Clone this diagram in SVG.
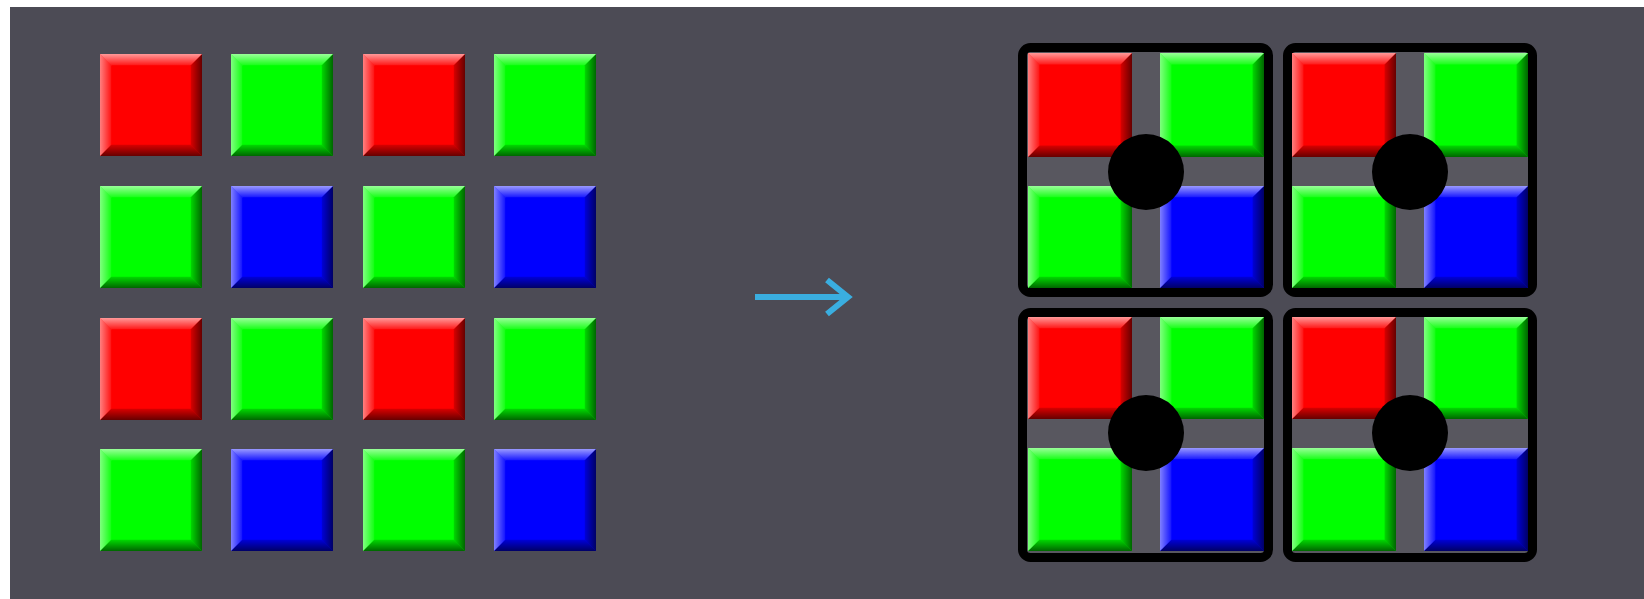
<svg xmlns="http://www.w3.org/2000/svg" xmlns:xlink="http://www.w3.org/1999/xlink" width="1644" height="599" viewBox="0 0 1644 599">
<style>
.r{fill:#ff0000}
.g{fill:#00ff00}
.b{fill:#0000ff}
.blk{fill:#58575f;stroke:#000;stroke-width:9}
.dot{fill:#000}
.arrow{stroke:#3aaee0;stroke-width:6;fill:none}
</style>
<defs>
<linearGradient id="gTop" x1="0" y1="0" x2="0" y2="1"><stop offset="0" stop-color="#fff" stop-opacity="0.6"/><stop offset="1" stop-color="#fff" stop-opacity="0.1"/></linearGradient>
<linearGradient id="gLeft" x1="0" y1="0" x2="1" y2="0"><stop offset="0" stop-color="#fff" stop-opacity="0.5"/><stop offset="1" stop-color="#fff" stop-opacity="0.08"/></linearGradient>
<linearGradient id="gBot" x1="0" y1="0" x2="0" y2="1"><stop offset="0" stop-color="#000" stop-opacity="0.15"/><stop offset="1" stop-color="#000" stop-opacity="0.6"/></linearGradient>
<linearGradient id="gRight" x1="0" y1="0" x2="1" y2="0"><stop offset="0" stop-color="#000" stop-opacity="0.15"/><stop offset="1" stop-color="#000" stop-opacity="0.6"/></linearGradient>
<symbol id="bevel" viewBox="0 0 100 100" preserveAspectRatio="none">
<polygon points="0,100 11,89 89,89 100,100" fill="url(#gBot)"/>
<polygon points="100,0 100,100 89,89 89,11" fill="url(#gRight)"/>
<polygon points="0,0 100,0 89,11 11,11" fill="url(#gTop)"/>
<polygon points="0,0 11,11 11,89 0,100" fill="url(#gLeft)"/>
</symbol>
<marker id="head" markerUnits="userSpaceOnUse" markerWidth="30" markerHeight="44" refX="24" refY="20" orient="auto" viewBox="0 0 30 40">
<polyline points="3,3 24,20 3,37" fill="none" stroke="#3aaee0" stroke-width="6"/>
</marker>
</defs>
<rect x="0" y="0" width="1644" height="599" fill="#ffffff"/>
<rect x="10" y="7" width="1634" height="592" fill="#4c4b55"/>

<g id="left-grid">
<g id="L00"><rect class="r" x="100" y="54" width="102" height="102"/><use xlink:href="#bevel" x="100" y="54" width="102" height="102"/></g>
<g id="L01"><rect class="g" x="231" y="54" width="102" height="102"/><use xlink:href="#bevel" x="231" y="54" width="102" height="102"/></g>
<g id="L02"><rect class="r" x="363" y="54" width="102" height="102"/><use xlink:href="#bevel" x="363" y="54" width="102" height="102"/></g>
<g id="L03"><rect class="g" x="494" y="54" width="102" height="102"/><use xlink:href="#bevel" x="494" y="54" width="102" height="102"/></g>
<g id="L10"><rect class="g" x="100" y="186" width="102" height="102"/><use xlink:href="#bevel" x="100" y="186" width="102" height="102"/></g>
<g id="L11"><rect class="b" x="231" y="186" width="102" height="102"/><use xlink:href="#bevel" x="231" y="186" width="102" height="102"/></g>
<g id="L12"><rect class="g" x="363" y="186" width="102" height="102"/><use xlink:href="#bevel" x="363" y="186" width="102" height="102"/></g>
<g id="L13"><rect class="b" x="494" y="186" width="102" height="102"/><use xlink:href="#bevel" x="494" y="186" width="102" height="102"/></g>
<g id="L20"><rect class="r" x="100" y="318" width="102" height="102"/><use xlink:href="#bevel" x="100" y="318" width="102" height="102"/></g>
<g id="L21"><rect class="g" x="231" y="318" width="102" height="102"/><use xlink:href="#bevel" x="231" y="318" width="102" height="102"/></g>
<g id="L22"><rect class="r" x="363" y="318" width="102" height="102"/><use xlink:href="#bevel" x="363" y="318" width="102" height="102"/></g>
<g id="L23"><rect class="g" x="494" y="318" width="102" height="102"/><use xlink:href="#bevel" x="494" y="318" width="102" height="102"/></g>
<g id="L30"><rect class="g" x="100" y="449" width="102" height="102"/><use xlink:href="#bevel" x="100" y="449" width="102" height="102"/></g>
<g id="L31"><rect class="b" x="231" y="449" width="102" height="102"/><use xlink:href="#bevel" x="231" y="449" width="102" height="102"/></g>
<g id="L32"><rect class="g" x="363" y="449" width="102" height="102"/><use xlink:href="#bevel" x="363" y="449" width="102" height="102"/></g>
<g id="L33"><rect class="b" x="494" y="449" width="102" height="102"/><use xlink:href="#bevel" x="494" y="449" width="102" height="102"/></g>
</g>

<g id="connectors">
<line class="arrow" x1="755" y1="297" x2="848" y2="297" marker-end="url(#head)"/>
</g>

<g id="block-tl">
<rect class="blk" x="1022.5" y="47.5" width="246" height="245" rx="8"/>
<rect class="r" x="1028" y="53" width="104" height="104"/><use xlink:href="#bevel" x="1028" y="53" width="104" height="104"/>
<rect class="g" x="1160" y="53" width="104" height="104"/><use xlink:href="#bevel" x="1160" y="53" width="104" height="104"/>
<rect class="g" x="1028" y="186" width="104" height="102"/><use xlink:href="#bevel" x="1028" y="186" width="104" height="102"/>
<rect class="b" x="1160" y="186" width="104" height="102"/><use xlink:href="#bevel" x="1160" y="186" width="104" height="102"/>
<circle class="dot" cx="1146" cy="172" r="38"/>
</g>
<g id="block-tr">
<rect class="blk" x="1287.5" y="47.5" width="245" height="245" rx="8"/>
<rect class="r" x="1292" y="53" width="104" height="104"/><use xlink:href="#bevel" x="1292" y="53" width="104" height="104"/>
<rect class="g" x="1424" y="53" width="104" height="104"/><use xlink:href="#bevel" x="1424" y="53" width="104" height="104"/>
<rect class="g" x="1292" y="186" width="104" height="102"/><use xlink:href="#bevel" x="1292" y="186" width="104" height="102"/>
<rect class="b" x="1424" y="186" width="104" height="102"/><use xlink:href="#bevel" x="1424" y="186" width="104" height="102"/>
<circle class="dot" cx="1410" cy="172" r="38"/>
</g>
<g id="block-bl">
<rect class="blk" x="1022.5" y="312.5" width="246" height="245" rx="8"/>
<rect class="r" x="1028" y="317" width="104" height="102"/><use xlink:href="#bevel" x="1028" y="317" width="104" height="102"/>
<rect class="g" x="1160" y="317" width="104" height="102"/><use xlink:href="#bevel" x="1160" y="317" width="104" height="102"/>
<rect class="g" x="1028" y="448" width="104" height="103"/><use xlink:href="#bevel" x="1028" y="448" width="104" height="103"/>
<rect class="b" x="1160" y="448" width="104" height="103"/><use xlink:href="#bevel" x="1160" y="448" width="104" height="103"/>
<circle class="dot" cx="1146" cy="433" r="38"/>
</g>
<g id="block-br">
<rect class="blk" x="1287.5" y="312.5" width="245" height="245" rx="8"/>
<rect class="r" x="1292" y="317" width="104" height="102"/><use xlink:href="#bevel" x="1292" y="317" width="104" height="102"/>
<rect class="g" x="1424" y="317" width="104" height="102"/><use xlink:href="#bevel" x="1424" y="317" width="104" height="102"/>
<rect class="g" x="1292" y="448" width="104" height="103"/><use xlink:href="#bevel" x="1292" y="448" width="104" height="103"/>
<rect class="b" x="1424" y="448" width="104" height="103"/><use xlink:href="#bevel" x="1424" y="448" width="104" height="103"/>
<circle class="dot" cx="1410" cy="433" r="38"/>
</g>
</svg>
